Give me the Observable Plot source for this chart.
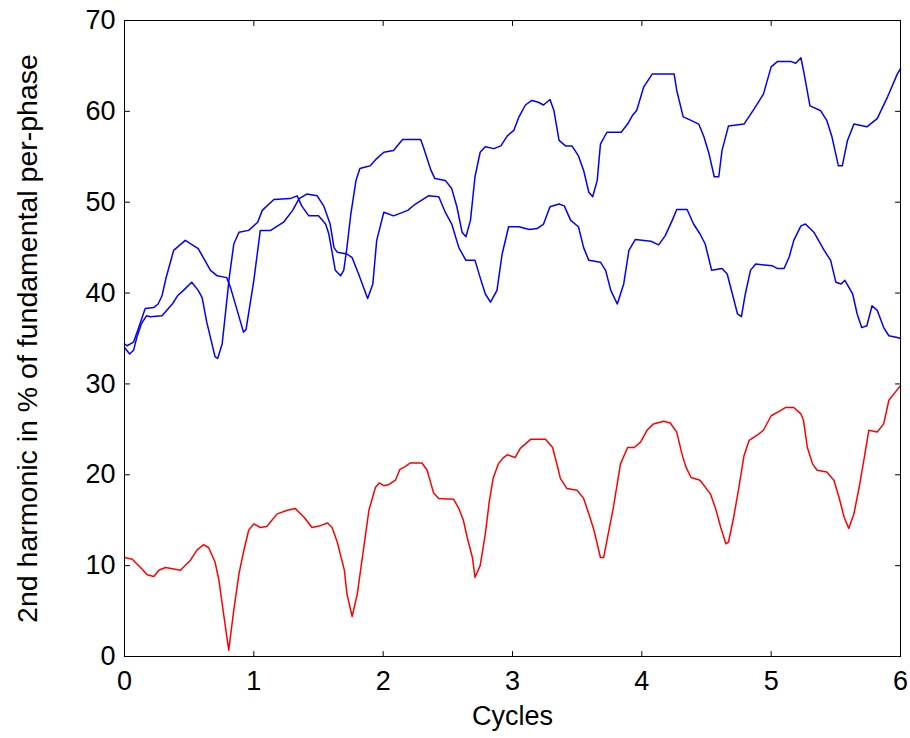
<!DOCTYPE html>
<html>
<head>
<meta charset="utf-8">
<script src="https://cdn.jsdelivr.net/npm/d3@7"></script>
<script src="https://cdn.jsdelivr.net/npm/@observablehq/plot@0.6"></script>
<style>
  html, body { margin: 0; padding: 0; background: #fff; }
</style>
</head>
<body>
<div id="chart"></div>
<script>
// ---- data (x = cycles, y = % of fundamental) ----
const blueUpper = [
  [0,34.0],[0.04,33.3],[0.07,33.7],[0.095,35.1],[0.13,36.6],[0.17,37.5],[0.2,37.4],[0.29,37.5],
  [0.37,38.8],[0.41,39.7],[0.456,40.3],[0.52,41.2],[0.57,40.3],[0.60,39.5],[0.636,36.8],[0.70,33.0],
  [0.72,32.8],[0.755,34.4],[0.78,37.7],[0.81,41.7],[0.845,45.4],[0.885,46.7],[0.96,46.9],[1.03,47.8],
  [1.065,49.1],[1.155,50.3],[1.28,50.4],[1.335,50.7],[1.37,49.6],[1.425,48.5],[1.50,48.5],[1.555,47.6],
  [1.58,46.5],[1.605,44.5],[1.63,42.5],[1.67,41.9],[1.695,42.5],[1.72,45.0],[1.75,48.7],[1.79,52.4],
  [1.82,53.7],[1.87,53.9],[1.90,54.0],[1.95,54.8],[2.005,55.5],[2.08,55.7],[2.15,56.9],[2.29,56.9],
  [2.31,56.1],[2.37,53.5],[2.40,52.6],[2.48,52.4],[2.53,51.5],[2.57,49.5],[2.61,46.7],[2.64,46.2],
  [2.675,48.0],[2.71,52.8],[2.75,55.5],[2.79,56.1],[2.855,55.9],[2.91,56.2],[2.96,57.3],[3.01,57.9],
  [3.05,59.4],[3.10,60.7],[3.15,61.2],[3.20,61.0],[3.24,60.7],[3.29,61.3],[3.32,60.1],[3.36,56.8],
  [3.41,56.2],[3.46,56.2],[3.51,55.1],[3.55,53.5],[3.59,51.1],[3.62,50.6],[3.655,52.4],[3.68,56.4],
  [3.73,57.7],[3.84,57.7],[3.89,58.6],[3.93,59.6],[3.96,60.1],[4.015,62.7],[4.08,64.1],[4.25,64.1],
  [4.27,62.3],[4.32,59.4],[4.38,59.0],[4.44,58.6],[4.48,57.2],[4.52,55.3],[4.56,52.8],[4.595,52.8],
  [4.62,55.7],[4.67,58.4],[4.79,58.6],[4.87,60.3],[4.94,61.9],[5.00,64.9],[5.05,65.5],[5.15,65.5],
  [5.19,65.3],[5.23,65.9],[5.25,64.5],[5.30,60.6],[5.38,60.1],[5.43,59.0],[5.47,57.2],[5.52,54.0],
  [5.55,54.0],[5.59,56.8],[5.64,58.6],[5.74,58.3],[5.82,59.2],[5.90,61.6],[5.975,64.1],[6.0,64.7]
];

const blueLower = [
  [0,34.4],[0.02,34.2],[0.07,34.6],[0.11,36.2],[0.16,38.3],[0.225,38.4],[0.26,38.8],[0.29,39.7],
  [0.32,41.6],[0.38,44.7],[0.47,45.8],[0.57,44.9],[0.665,42.5],[0.717,41.9],[0.79,41.7],[0.82,40.6],
  [0.92,35.7],[0.94,36.0],[1.0,41.4],[1.05,46.9],[1.13,46.9],[1.23,47.8],[1.30,49.1],[1.35,50.4],
  [1.41,50.9],[1.49,50.7],[1.54,49.6],[1.59,47.6],[1.62,45.0],[1.645,44.5],[1.72,44.3],[1.76,43.9],
  [1.81,42.1],[1.88,39.4],[1.92,41.0],[1.95,45.8],[2.005,48.9],[2.08,48.5],[2.19,49.1],[2.25,49.8],
  [2.35,50.7],[2.43,50.6],[2.48,48.9],[2.53,47.6],[2.585,45.0],[2.64,43.6],[2.71,43.6],[2.75,41.7],
  [2.79,39.9],[2.83,39.0],[2.88,40.3],[2.92,44.3],[2.97,47.3],[3.05,47.3],[3.13,47.0],[3.19,47.1],
  [3.24,47.6],[3.29,49.5],[3.36,49.8],[3.40,49.6],[3.45,48.0],[3.51,47.3],[3.55,45.0],[3.59,43.6],
  [3.68,43.4],[3.72,42.5],[3.76,40.3],[3.81,38.8],[3.86,41.0],[3.90,44.7],[3.95,45.9],[4.07,45.7],
  [4.13,45.3],[4.18,46.3],[4.235,48.0],[4.27,49.2],[4.35,49.2],[4.40,47.6],[4.45,46.5],[4.49,45.4],
  [4.54,42.5],[4.62,42.7],[4.66,42.1],[4.70,39.9],[4.74,37.7],[4.77,37.4],[4.80,39.9],[4.84,42.5],
  [4.88,43.2],[5.01,43.0],[5.05,42.7],[5.10,42.7],[5.14,44.0],[5.175,45.8],[5.23,47.4],[5.265,47.6],
  [5.33,46.7],[5.41,44.7],[5.46,43.6],[5.50,41.2],[5.54,41.0],[5.57,41.4],[5.63,39.9],[5.665,37.7],
  [5.70,36.2],[5.74,36.4],[5.78,38.6],[5.82,38.1],[5.87,36.2],[5.91,35.3],[5.975,35.1],[6.0,35.0]
];

const redLine = [
  [0,10.9],[0.06,10.7],[0.124,9.8],[0.175,9.0],[0.227,8.8],[0.265,9.5],[0.317,9.8],[0.433,9.5],
  [0.51,10.6],[0.56,11.7],[0.61,12.3],[0.65,12.0],[0.70,10.4],[0.73,8.4],[0.77,4.3],[0.806,0.7],
  [0.845,5.1],[0.885,9.1],[0.92,11.5],[0.96,13.9],[1.0,14.6],[1.05,14.2],[1.10,14.3],[1.18,15.7],
  [1.26,16.1],[1.32,16.3],[1.39,15.3],[1.45,14.2],[1.515,14.4],[1.57,14.7],[1.605,14.2],[1.645,12.6],
  [1.70,9.5],[1.72,6.9],[1.76,4.4],[1.80,6.9],[1.85,12.0],[1.89,16.1],[1.94,18.6],[1.97,19.1],
  [2.005,18.8],[2.04,18.9],[2.095,19.4],[2.13,20.6],[2.17,20.9],[2.21,21.3],[2.30,21.3],[2.34,20.5],
  [2.37,19.0],[2.39,18.0],[2.43,17.4],[2.545,17.3],[2.585,16.3],[2.62,15.0],[2.65,13.1],[2.69,10.9],
  [2.71,8.7],[2.75,10.0],[2.79,13.5],[2.82,17.0],[2.85,19.6],[2.89,21.2],[2.93,21.9],[2.96,22.2],
  [3.02,21.9],[3.06,22.9],[3.14,23.9],[3.255,23.9],[3.31,23.0],[3.35,20.8],[3.37,19.6],[3.42,18.5],
  [3.50,18.3],[3.55,17.4],[3.59,15.7],[3.63,13.9],[3.68,10.9],[3.705,10.9],[3.74,13.5],[3.78,16.4],
  [3.835,21.2],[3.89,23.0],[3.94,23.0],[3.99,23.6],[4.04,24.9],[4.09,25.6],[4.17,25.9],[4.22,25.7],
  [4.27,24.7],[4.31,22.3],[4.34,20.9],[4.38,19.7],[4.45,19.4],[4.53,17.9],[4.57,16.3],[4.61,14.2],
  [4.65,12.4],[4.67,12.6],[4.71,15.3],[4.75,18.6],[4.79,22.1],[4.83,23.8],[4.905,24.5],[4.94,24.9],
  [5.00,26.5],[5.05,26.9],[5.11,27.4],[5.175,27.4],[5.23,26.7],[5.25,26.0],[5.28,23.0],[5.32,21.2],
  [5.355,20.5],[5.43,20.3],[5.485,19.4],[5.525,17.5],[5.565,15.3],[5.60,14.1],[5.64,15.7],[5.68,18.6],
  [5.72,21.9],[5.755,24.9],[5.82,24.7],[5.87,25.6],[5.91,28.2],[5.96,29.1],[6.0,29.8]
];

const xTicks = [0, 1, 2, 3, 4, 5, 6];
const yTicks = [0, 10, 20, 30, 40, 50, 60, 70];
const xLabel = "Cycles";
const yLabel = "2nd harmonic in % of fundamental per-phase";

const lineOpts = {x: d => d[0], y: d => d[1], strokeWidth: 1.5};

// a plain straight tick (no arrowhead) for the inward MATLAB-style ticks
const tickShape = {
  draw(context, l) { context.moveTo(0, 0); context.lineTo(0, -l); }
};
const tickOpts = {length: 5, anchor: "start", shape: tickShape, stroke: "black", strokeWidth: 1};

const chart = Plot.plot({
  width: 910,
  height: 738,
  marginLeft: 124,
  marginRight: 10,
  marginTop: 20,
  marginBottom: 82,
  style: {
    background: "white",
    color: "black",
    fontFamily: "'Liberation Sans', Arial, sans-serif",
    fontSize: "27px"
  },
  x: {domain: [0, 6]},
  y: {domain: [0, 70]},
  marks: [
    Plot.line(blueUpper, {...lineOpts, stroke: "#0000ff"}),
    Plot.line(blueLower, {...lineOpts, stroke: "#0000ff"}),
    Plot.line(redLine, {...lineOpts, stroke: "#ff0000"}),
    Plot.frame({stroke: "black", strokeWidth: 1}),
    // tick labels
    Plot.axisX({ticks: xTicks, tickSize: 0, tickPadding: 14, tickFormat: d => d, label: null}),
    Plot.axisY({ticks: yTicks, tickSize: 0, tickPadding: 9, tickFormat: d => d, label: null}),
    // inward ticks on all four sides
    Plot.vector(xTicks, {...tickOpts, x: d => d, frameAnchor: "bottom", rotate: 0}),
    Plot.vector(xTicks, {...tickOpts, x: d => d, frameAnchor: "top", rotate: 180}),
    Plot.vector(yTicks, {...tickOpts, y: d => d, frameAnchor: "left", rotate: 90}),
    Plot.vector(yTicks, {...tickOpts, y: d => d, frameAnchor: "right", rotate: -90}),
    // axis titles
    Plot.text([xLabel], {frameAnchor: "bottom", text: d => d, dy: 60, lineAnchor: "middle", textAnchor: "middle", fontSize: 27}),
    Plot.text([yLabel], {frameAnchor: "left", text: d => d, rotate: -90, dx: -97, lineAnchor: "middle", textAnchor: "middle", fontSize: 28.5})
  ]
});

document.getElementById("chart").appendChild(chart);
</script>
</body>
</html>
